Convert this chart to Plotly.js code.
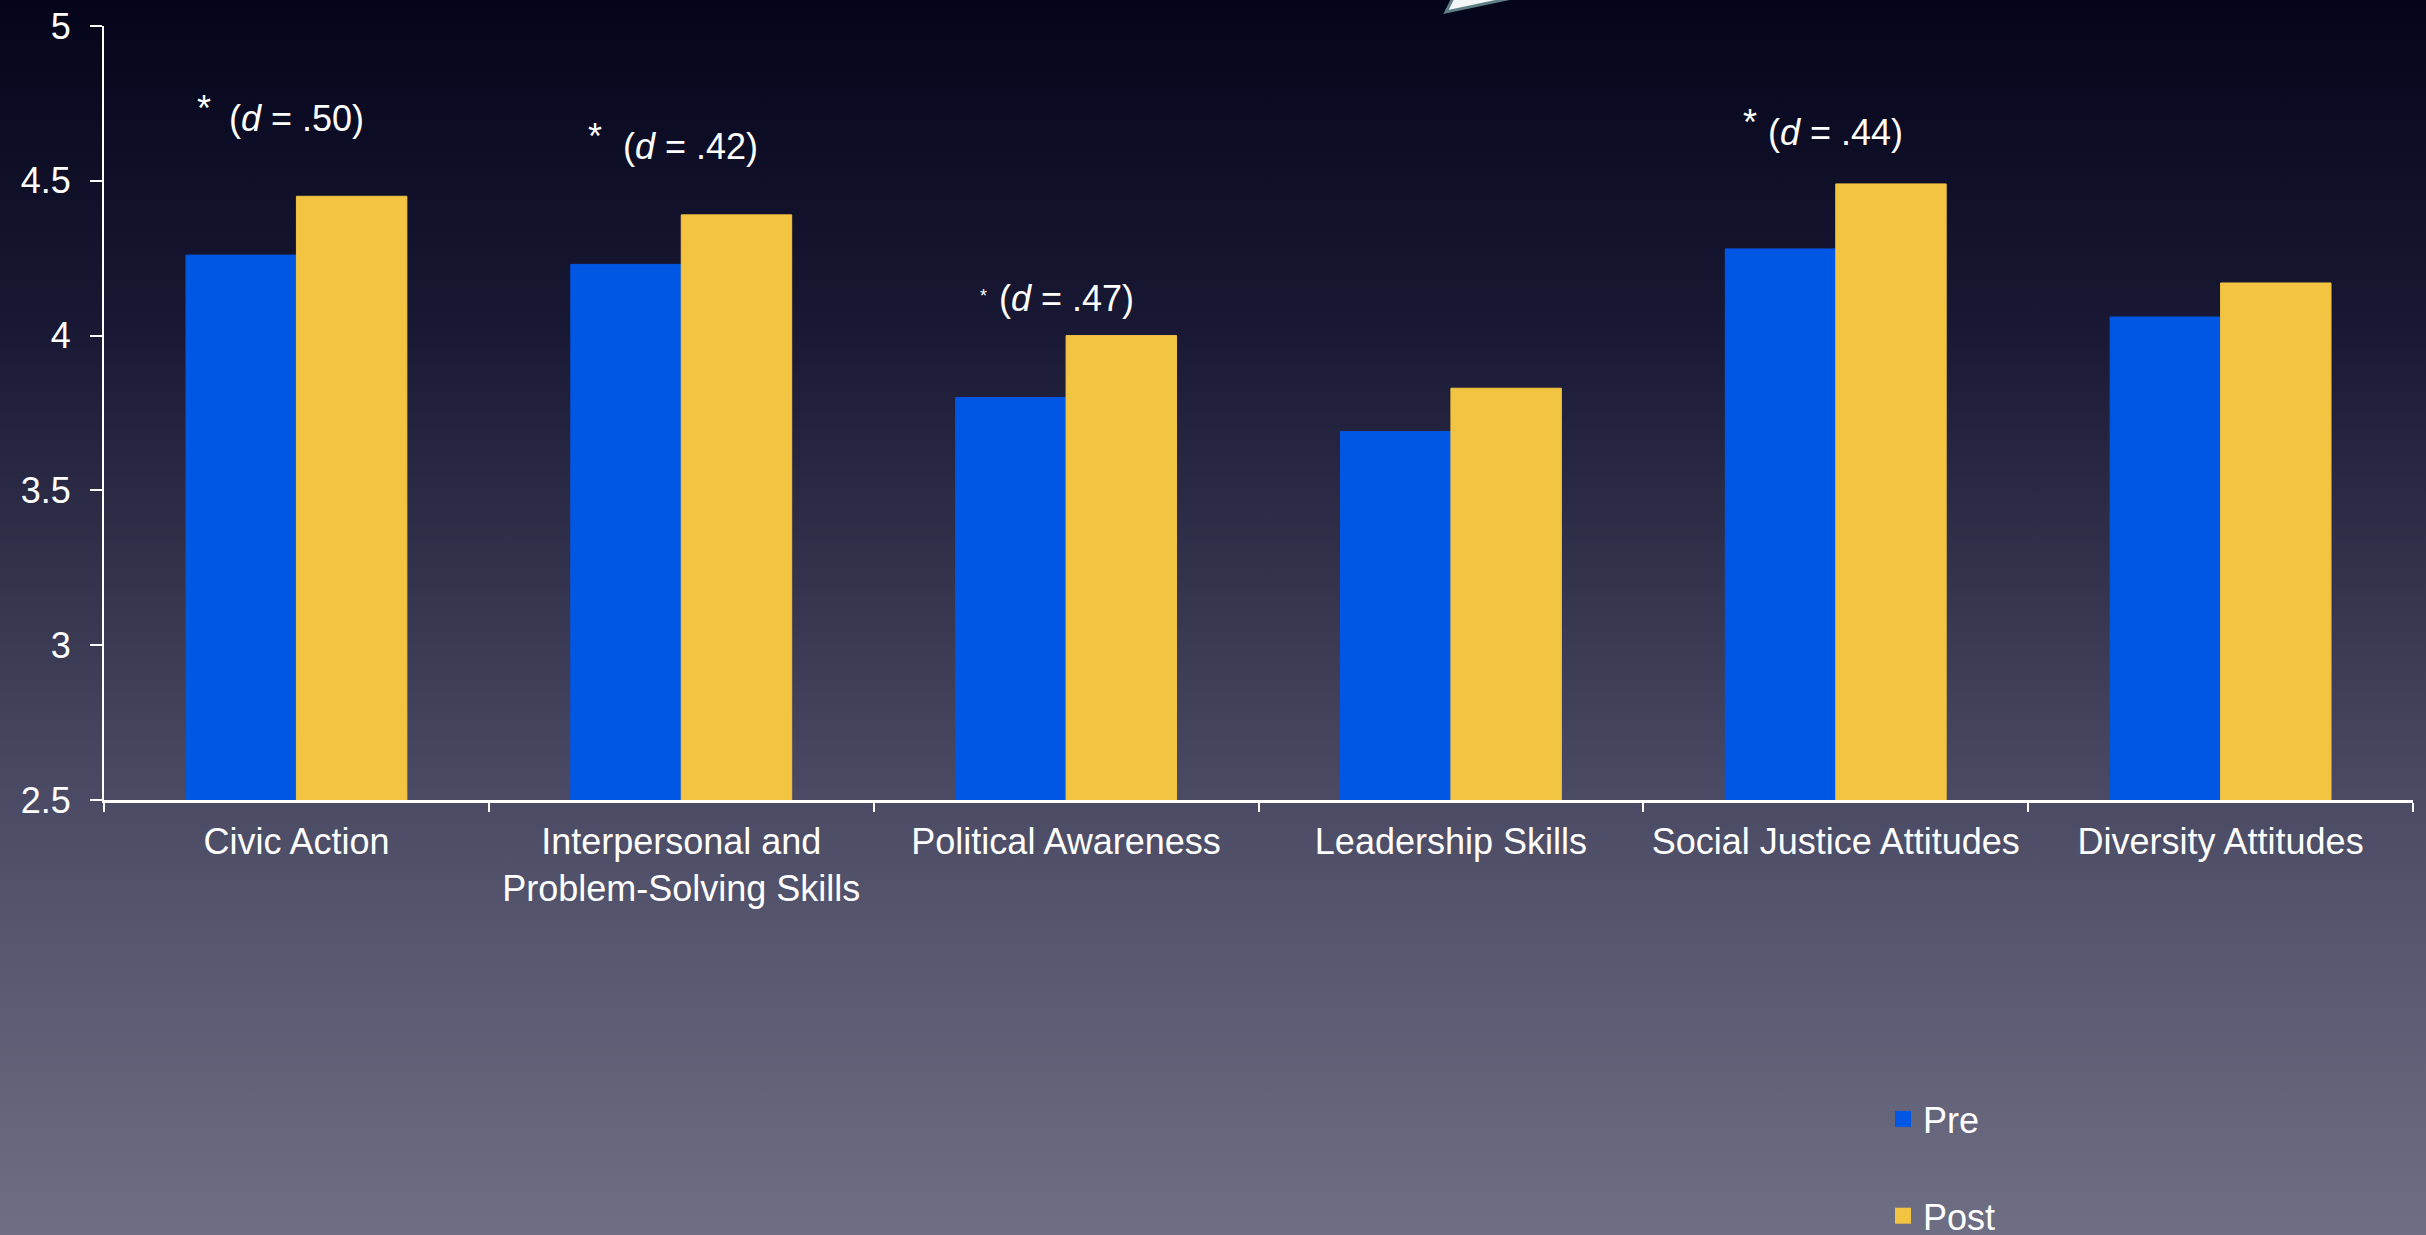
<!DOCTYPE html>
<html>
<head>
<meta charset="utf-8">
<script src="https://cdn.plot.ly/plotly-3.0.1.min.js"></script>
<style>
  html, body { margin: 0; padding: 0; width: 2426px; height: 1235px; overflow: hidden; }
  body { background: linear-gradient(to bottom, #04041a 0%, #191935 27%, #4b4b65 65%, #6e6e84 100%); }
  #chart { width: 2426px; height: 1235px; }
</style>
</head>
<body>
<div id="chart"></div>
<script>
const categories = ["Civic Action", "Interpersonal and<br>Problem-Solving Skills", "Political Awareness", "Leadership Skills", "Social Justice Attitudes", "Diversity Attitudes"];
const preValues = [4.26, 4.23, 3.80, 3.69, 4.28, 4.06];
const postValues = [4.45, 4.39, 4.00, 3.83, 4.49, 4.17];
const seriesNames = ["Pre", "Post"];
const seriesColors = ["#0057e4", "#f2c442"];
const effectCategories = ["Civic Action", "Interpersonal and<br>Problem-Solving Skills", "Political Awareness", "Social Justice Attitudes"];
const effectLabels = [".50", ".42", ".47", ".44"];
const effectY = [4.70, 4.61, 4.12, 4.655];
const yTicks = [2.5, 3, 3.5, 4, 4.5, 5];

const FONT = "Liberation Sans, Arial, Helvetica, sans-serif";
const W = 2426, H = 1235;
const M = {l: 104, r: 13, t: 26, b: 435};
const pw = W - M.l - M.r, ph = H - M.t - M.b;
function px(x) { return (x - M.l) / pw; }
function py(y) { return (H - M.b - y) / ph; }

const traces = [
  {type: "bar", name: seriesNames[0], x: categories, y: preValues, showlegend: false,
   marker: {color: seriesColors[0], line: {color: seriesColors[0], width: 1}}},
  {type: "bar", name: seriesNames[1], x: categories, y: postValues, showlegend: false,
   marker: {color: seriesColors[1], line: {color: seriesColors[1], width: 1}}},
  {type: "scatter", mode: "markers", name: seriesNames[0], x: [null], y: [null], legendgroup: "a",
   marker: {symbol: "square", size: 17, color: seriesColors[0]}},
  {type: "scatter", mode: "markers", name: seriesNames[1], x: [null], y: [null], legendgroup: "b",
   marker: {symbol: "square", size: 17, color: seriesColors[1]}}
];

const annotations = [];
effectCategories.forEach((c, i) => {
  const small = (i === 2);
  annotations.push({
    xref: "x", yref: "y", x: c, y: effectY[i], xshift: (i === 1 ? 9 : 0),
    text: "(<i>d</i> = " + effectLabels[i] + ")", showarrow: false,
    font: {family: FONT, size: 36, color: "#ffffff"}
  });
  annotations.push({
    xref: "x", yref: "y", x: c, y: effectY[i],
    xshift: small ? -83 : (i === 0 ? -92 : -86), yshift: small ? 2 : 10,
    text: "*", showarrow: false,
    font: {family: FONT, size: small ? 18 : 36, color: "#ffffff"}
  });
});

const layout = {
  width: W, height: H,
  margin: {l: M.l, r: M.r, t: M.t, b: M.b, autoexpand: false},
  paper_bgcolor: "rgba(0,0,0,0)",
  plot_bgcolor: "rgba(0,0,0,0)",
  barmode: "group", bargap: 0.426, bargroupgap: 0,
  font: {family: FONT, size: 36, color: "#ffffff"},
  xaxis: {
    type: "category", categoryarray: categories, showline: true, linecolor: "#ffffff", linewidth: 3,
    ticks: "outside", tickson: "boundaries", ticklen: 9, tickcolor: "#ffffff", tickwidth: 2,
    tickfont: {family: FONT, size: 36, color: "#ffffff"}, showgrid: false, zeroline: false,
    ticklabelstandoff: 8
  },
  yaxis: {
    range: [2.5, 5], tickvals: yTicks, ticktext: yTicks.map(String),
    showline: true, linecolor: "#ffffff", linewidth: 2,
    ticks: "outside", ticklen: 12, tickcolor: "#ffffff", tickwidth: 2,
    tickfont: {family: FONT, size: 36, color: "#ffffff"}, showgrid: false, zeroline: false,
    ticklabelstandoff: 12
  },
  showlegend: true,
  legend: {
    x: px(1883), xanchor: "left", y: py(1089), yanchor: "top",
    bgcolor: "rgba(0,0,0,0)", borderwidth: 0, traceorder: "grouped", tracegroupgap: 47,
    itemwidth: 30,
    font: {family: FONT, size: 36, color: "#ffffff"}
  },
  annotations: annotations,
  shapes: [
    {type: "path", xref: "paper", yref: "paper",
     path: "M " + px(1453) + " " + py(-2) + " L " + px(1512) + " " + py(-2) + " L " + px(1446) + " " + py(12) + " Z",
     fillcolor: "#f4f6f6", line: {color: "#5f7f86", width: 3}}
  ]
};

Plotly.newPlot("chart", traces, layout, {displayModeBar: false, staticPlot: true});
</script>
</body>
</html>
